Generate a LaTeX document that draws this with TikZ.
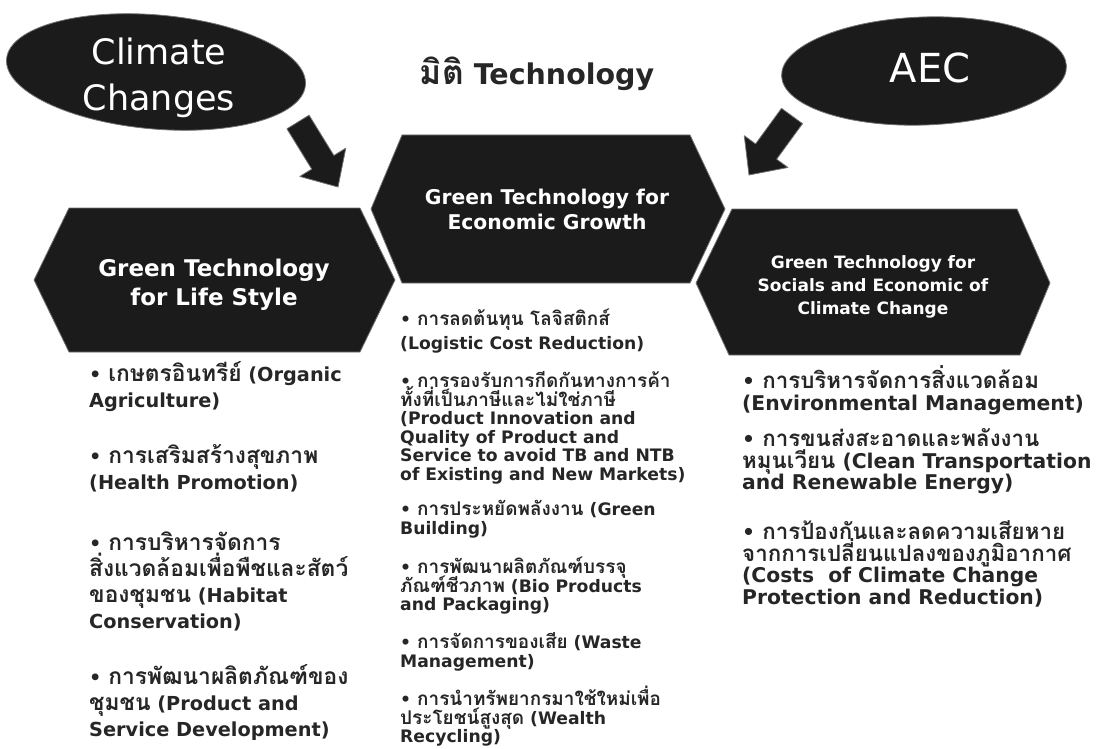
\documentclass[tikz,border=0pt]{standalone}
\usepackage{fontspec}
\setmainfont{DejaVu Sans}
\newfontfamily\thaifont[Script=Thai,Scale=1.1]{Loma}
\newfontfamily\thaibig[Script=Thai,Scale=1.18]{Loma}
\usetikzlibrary{calc,shapes.geometric}
\newcommand{\tha}[1]{{\thaifont #1}}
\newcommand{\thb}[1]{{\thaibig #1}}
\newcommand{\tightlines}{\lineskiplimit=-1000pt\lineskip=0pt}
\definecolor{shapecol}{HTML}{1B1B1B}
\definecolor{txtcol}{HTML}{262626}
% block arrow from tail coordinate #1 to tip coordinate #2
\newcommand{\blockarrow}[2]{%
  \coordinate (#1base) at ($(#2)!29pt!(#1)$);
  \fill[shapefill] ($(#1)!13pt!90:(#2)$) -- ($(#1base)!13pt!-90:(#1)$)
    -- ($(#1base)!27pt!-90:(#1)$) -- (#2) -- ($(#1base)!27pt!90:(#1)$)
    -- ($(#1base)!13pt!90:(#1)$) -- ($(#1)!13pt!-90:(#2)$) -- cycle;}
\begin{document}
\begin{tikzpicture}[x=1pt,y=-1pt,
  shapefill/.style={fill=shapecol, draw=black!55, line width=0.8pt, line join=round},
  oval/.style={ellipse, fill=shapecol, draw=black!55, line width=0.8pt, inner sep=0pt},
  % multi-line nodes are placed by the baseline of their last line
  ovaltext/.style={anchor=base, align=center, text=white, inner sep=0pt},
  hexhead/.style={anchor=base, align=center, text=white, inner sep=0pt},
  lefttxt/.style={anchor=base west, align=left, inner sep=0pt, text=txtcol,
    font=\fontsize{19.3}{26}\selectfont\bfseries\tightlines},
  midtxt/.style={anchor=base west, align=left, inner sep=0pt, text=txtcol,
    font=\fontsize{17.2}{18.6}\selectfont\bfseries\tightlines},
  righttxt/.style={anchor=base west, align=left, inner sep=0pt, text=txtcol,
    font=\fontsize{20.3}{21.5}\selectfont\bfseries\tightlines}]
\useasboundingbox (0,0) rectangle (1100,749);
\fill[white] (0,0) rectangle (1100,749);

% drivers
\node (climate) [oval, minimum width=300pt, minimum height=114pt, rotate=-5] at (156,72) {};
\node (climateText) [ovaltext, font=\fontsize{35}{46}\selectfont\tightlines] at (159,111) {Climate\\Changes};
\node (aec) [oval, minimum width=285pt, minimum height=108pt, rotate=2] at (924,71) {};
\node (aecText) [ovaltext, font=\fontsize{40}{48}\selectfont] at (930,83) {AEC};

% title
\node (title) [anchor=base, inner sep=0pt, text=txtcol, font=\fontsize{28.5}{34}\selectfont\bfseries]
  at (537,85) {\thb{มิติ} Technology};

% arrows
\coordinate (ccTail) at (298,122);
\coordinate (ccTip) at (338,187);
\coordinate (aeTail) at (792,116);
\coordinate (aeTip) at (749,175);
\blockarrow{ccTail}{ccTip}
\blockarrow{aeTail}{aeTip}

% hexagons
\fill[shapefill] (34,280) -- (69,208) -- (360,208) -- (395,280) -- (360,352) -- (69,352) -- cycle;
\fill[shapefill] (371,209) -- (402,135) -- (690,135) -- (725,209) -- (690,283) -- (402,283) -- cycle;
\fill[shapefill] (696,283) -- (732,209) -- (1017,209) -- (1050,283) -- (1020,355) -- (729,355) -- cycle;

\node (lifeHead) [hexhead, font=\fontsize{23}{29}\selectfont\bfseries\tightlines] at (214,305)
  {Green Technology\\for Life Style};
\node (growthHead) [hexhead, font=\fontsize{20.3}{25}\selectfont\bfseries\tightlines] at (547,229.5)
  {Green Technology for\\Economic Growth};
\node (climHead) [hexhead, font=\fontsize{17}{23}\selectfont\bfseries\tightlines] at (873,314)
  {Green Technology for\\Socials and Economic of\\Climate Change};

% life style items
\node (l1) [lefttxt] at (89,407) {• \thb{เกษตรอินทรีย์} (Organic\\Agriculture)};
\node (l2) [lefttxt] at (89,489) {• \thb{การเสริมสร้างสุขภาพ}\\(Health Promotion)};
\node (l3) [lefttxt] at (89,628) {• \thb{การบริหารจัดการ}\\\thb{สิ่งแวดล้อมเพื่อพืชและสัตว์}\\\thb{ของชุมชน} (Habitat\\Conservation)};
\node (l4) [lefttxt] at (89,736) {• \thb{การพัฒนาผลิตภัณฑ์ของ}\\\thb{ชุมชน} (Product and\\Service Development)};

% economic growth items
\node (m1) [midtxt, font=\fontsize{17.2}{24}\selectfont\bfseries\tightlines] at (400,349.5) {• \tha{การลดต้นทุน โลจิสติกส์}\\(Logistic Cost Reduction)};
\node (m2) [midtxt] at (400,480.5) {• \tha{การรองรับการกีดกันทางการค้า}\\\tha{ทั้งที่เป็นภาษีและไม่ใช่ภาษี}\\(Product Innovation and\\Quality of Product and\\Service to avoid TB and NTB\\of Existing and New Markets)};
\node (m3) [midtxt] at (400,534.1) {• \tha{การประหยัดพลังงาน} (Green\\Building)};
\node (m4) [midtxt] at (400,610.7) {• \tha{การพัฒนาผลิตภัณฑ์บรรจุ}\\\tha{ภัณฑ์ชีวภาพ} (Bio Products\\and Packaging)};
\node (m5) [midtxt] at (400,667.1) {• \tha{การจัดการของเสีย} (Waste\\Management)};
\node (m6) [midtxt] at (400,742.7) {• \tha{การนำทรัพยากรมาใช้ใหม่เพื่อ}\\\tha{ประโยชน์สูงสุด} (Wealth\\Recycling)};

% climate change items
\node (r1) [righttxt] at (742,410) {• \tha{การบริหารจัดการสิ่งแวดล้อม}\\(Environmental Management)};
\node (r2) [righttxt] at (742,489.5) {• \tha{การขนส่งสะอาดและพลังงาน}\\\tha{หมุนเวียน} (Clean Transportation\\and Renewable Energy)};
\node (r3) [righttxt] at (742,604) {• \tha{การป้องกันและลดความเสียหาย}\\\tha{จากการเปลี่ยนแปลงของภูมิอากาศ}\\(Costs\ \ of Climate Change\\Protection and Reduction)};
\end{tikzpicture}
\end{document}
